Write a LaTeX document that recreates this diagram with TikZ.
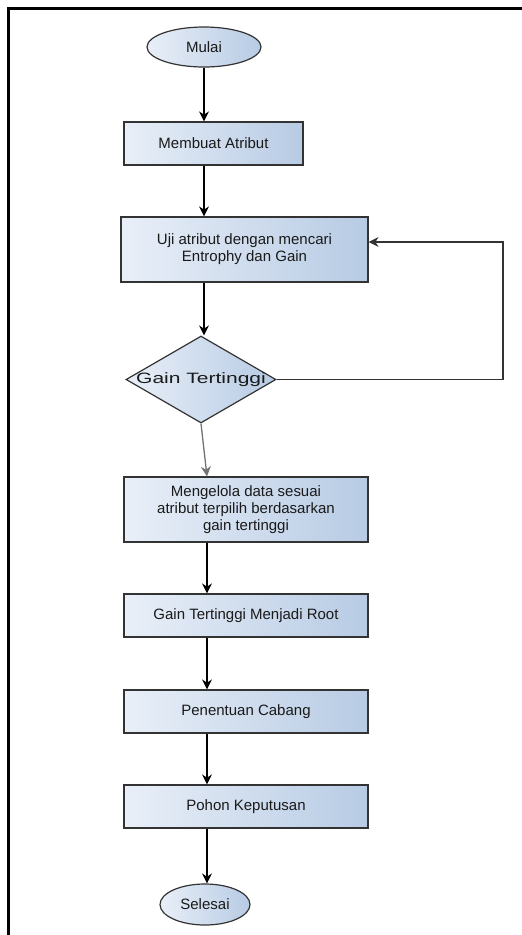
\documentclass[tikz,border=0pt]{standalone}
\usepackage{fontspec}
\usetikzlibrary{shapes.geometric,arrows.meta}
\newfontfamily\boxfont{Liberation Sans}
\newfontfamily\wideboxfont{Liberation Sans}[FakeStretch=1.4]
\definecolor{boxL}{HTML}{E9EFF8}
\definecolor{boxR}{HTML}{B7CBE4}
\definecolor{edge}{HTML}{333333}
\definecolor{txt}{HTML}{1A1A1A}
\tikzset{
  base/.style={draw=edge, line width=1.2pt, left color=boxL, right color=boxR,
    inner sep=0pt, text=txt, align=center,
    font=\boxfont\fontsize{15}{17}\selectfont},
  procbox/.style={base, rectangle},
  termbox/.style={base, ellipse},
  decbox/.style={base, diamond},
  flow/.style={draw=black, line width=1.3pt, -{Stealth[length=10pt,width=10pt]}},
  frameline/.style={draw=black, line width=3pt}
}
\begin{document}
\begin{tikzpicture}[x=1pt,y=-1pt]
\useasboundingbox (0,0) rectangle (522,935);
% frame (left and top edges only)
\coordinate (fbl) at (8,935);
\coordinate (ftl) at (8,8);
\coordinate (ftr) at (522,8);
\draw[frameline] (fbl) -- (ftl) -- (ftr);

\node[termbox, minimum width=114pt, minimum height=40pt] (start) at (204,47) {Mulai};
\node[procbox, minimum width=179pt, minimum height=43pt] (b1) at (213.5,143.5) {Membuat Atribut};
\node[procbox, minimum width=247pt, minimum height=65pt] (uji) at (244.5,249.5) {Uji atribut dengan mencari\\Entrophy dan Gain};
\node[decbox, minimum width=150pt, minimum height=87pt,
  label={[font=\wideboxfont\fontsize{15}{17}\selectfont, text=txt]center:Gain Tertinggi}] (dec) at (201,379.5) {};
\node[procbox, minimum width=244pt, minimum height=65pt] (olah) at (246,509.5) {Mengelola data sesuai\\atribut terpilih berdasarkan\\gain tertinggi};
\node[procbox, minimum width=244pt, minimum height=43pt] (root) at (246,615.5) {Gain Tertinggi Menjadi Root};
\node[procbox, minimum width=244pt, minimum height=43pt] (cab) at (246,711.5) {Penentuan Cabang};
\node[procbox, minimum width=244pt, minimum height=43pt] (pohon) at (246,806.5) {Pohon Keputusan};
\node[termbox, minimum width=90pt, minimum height=41pt] (end) at (205,904.5) {Selesai};

% connector x positions
\coordinate (ax1) at (204,0);
\coordinate (ax2) at (207,0);

\draw[flow] (start.south) -- (b1.north -| ax1);
\draw[flow] (b1.south -| ax1) -- (uji.north -| ax1);
\draw[flow] (uji.south -| ax1) -- (dec.north -| ax1);
\draw[flow, draw=black!55] (dec.south) -- (olah.north -| ax2);
\draw[flow] (olah.south -| ax2) -- (root.north -| ax2);
\draw[flow] (root.south -| ax2) -- (cab.north -| ax2);
\draw[flow] (cab.south -| ax2) -- (pohon.north -| ax2);
\draw[flow] (pohon.south -| ax2) -- (end.north -| ax2);

\coordinate (c1) at (503,379.5);
\coordinate (c2) at (503,242);
\draw[flow, line width=1.1pt, draw=edge] (dec.east) -- (c1) -- (c2) -- (uji.east |- c2);
\end{tikzpicture}
\end{document}
